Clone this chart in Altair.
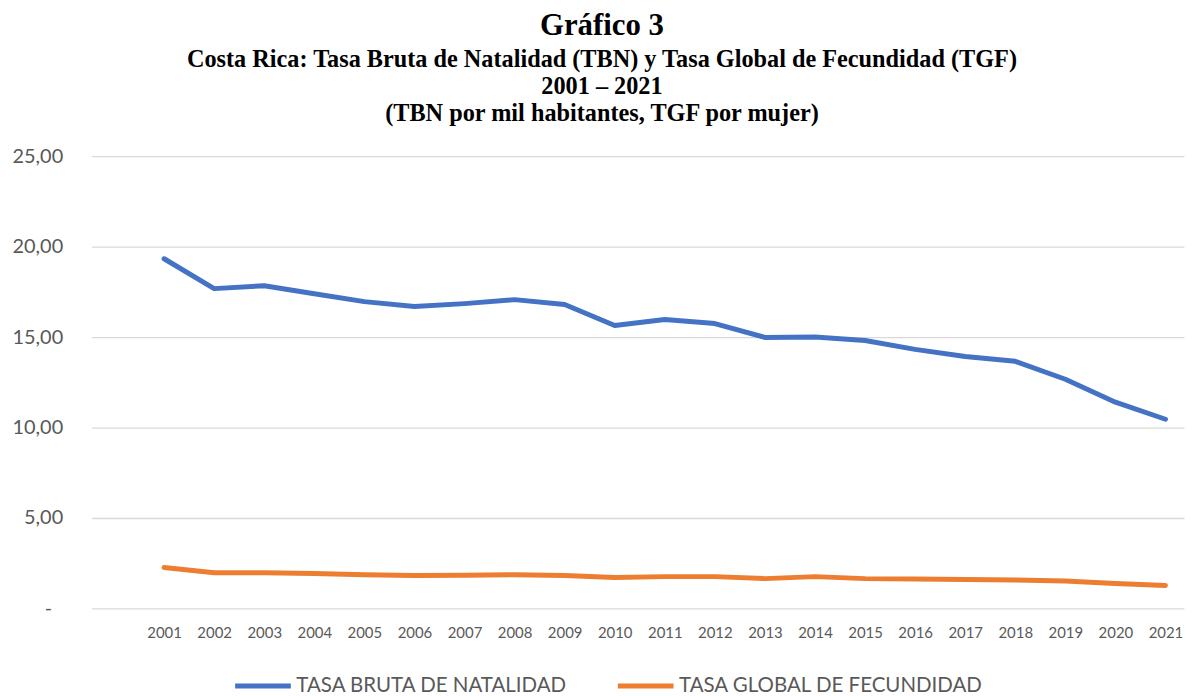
import altair as alt
import pandas as pd

years = list(range(2001, 2022))
tbn = [19.33, 17.68, 17.84, 17.40, 16.96, 16.69, 16.85, 17.07, 16.80, 15.64, 15.97,
       15.75, 14.98, 15.00, 14.81, 14.32, 13.93, 13.66, 12.67, 11.40, 10.46]
tgf = [2.26, 1.98, 1.98, 1.93, 1.87, 1.82, 1.84, 1.87, 1.82, 1.71, 1.76,
       1.76, 1.65, 1.76, 1.65, 1.63, 1.60, 1.57, 1.52, 1.38, 1.27]
series_names = ["TASA BRUTA DE NATALIDAD", "TASA GLOBAL DE FECUNDIDAD"]
colors = ["#4472C4", "#ED7D31"]
y_ticks = [0, 5, 10, 15, 20, 25]

df = pd.DataFrame({
    "year": years * 2,
    "value": tbn + tgf,
    "serie": [series_names[0]] * len(years) + [series_names[1]] * len(years),
})

label_font = "Lato"

chart = alt.Chart(df).mark_line(strokeWidth=5, strokeCap="round", strokeJoin="round").encode(
    x=alt.X("year:Q",
            scale=alt.Scale(domain=[1999.55, 2021.37], nice=False, zero=False),
            axis=alt.Axis(values=years, format="d", title=None, grid=False, domain=False,
                          ticks=False, labelFont=label_font, labelFontSize=15,
                          labelColor="#595959", labelPadding=17)),
    y=alt.Y("value:Q",
            scale=alt.Scale(domain=[0, 25], nice=False),
            axis=alt.Axis(values=y_ticks, title=None, domain=False, ticks=False,
                          gridColor="#D9D9D9", gridWidth=1.3,
                          labelExpr="datum.value == 0 ? '-' : replace(format(datum.value, '.2f'), '.', ',')",
                          labelFont=label_font, labelFontSize=20, labelColor="#595959",
                          labelPadding={"condition": {"test": "datum.value == 0", "value": 40},
                                        "value": 29})),
    color=alt.Color("serie:N",
                    scale=alt.Scale(domain=series_names, range=colors),
                    legend=alt.Legend(title=None, orient="none", legendX=142, legendY=502,
                                      direction="horizontal", symbolType="stroke",
                                      symbolSize=3136, symbolStrokeWidth=5,
                                      labelFont=label_font, labelFontSize=20.6, labelLimit=500,
                                      labelColor="#595959", labelOffset=3,
                                      columnPadding=40, padding=0)),
).properties(
    width=1099,
    height=455,
    title=alt.TitleParams(
        text="Gráfico 3",
        subtitle=["Costa Rica: Tasa Bruta de Natalidad (TBN) y Tasa Global de Fecundidad (TGF)",
                  "2001 – 2021",
                  "(TBN por mil habitantes, TGF por mujer)"],
        font="Liberation Serif", fontSize=31, fontWeight="bold", color="black",
        subtitleFont="Liberation Serif", subtitleFontSize=24.4, subtitleFontWeight="bold",
        subtitleColor="black", subtitleLineHeight=27, subtitlePadding=6,
        anchor="middle", dx=-36, offset=20,
    ),
    autosize=alt.AutoSizeParams(type="none"),
    padding={"left": 84, "top": 147, "right": 1, "bottom": 88},
).configure_view(stroke=None)

chart.save("out.html", embed_options={"renderer": "svg", "actions": False})
